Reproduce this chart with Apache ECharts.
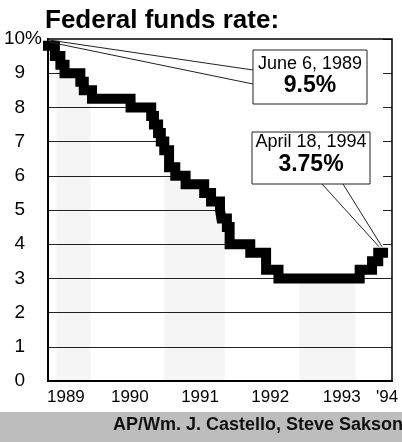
<!DOCTYPE html>
<html>
<head>
<meta charset="utf-8">
<script src="https://cdn.jsdelivr.net/npm/echarts@6/dist/echarts.min.js"></script>
<style>
  html, body { margin: 0; padding: 0; background: #fff; }
  #chart { width: 402px; height: 442px; }
</style>
</head>
<body>
<div id="chart"></div>
<script>
// rate changes, x in decimal years
const rateDates = [1989.33, 1989.43, 1989.51, 1989.57, 1989.80, 1989.85, 1989.97, 1990.53,
  1990.83, 1990.87, 1990.93, 1990.97, 1991.02, 1991.09, 1991.18, 1991.33, 1991.60, 1991.70,
  1991.83, 1991.85, 1991.93, 1991.97, 1992.27, 1992.50, 1992.68, 1993.86, 1994.04, 1994.13, 1994.20];
const rateValues = [9.8, 9.5, 9.25, 9.0, 8.75, 8.5, 8.25, 8.0,
  7.75, 7.5, 7.25, 7.0, 6.75, 6.25, 6.0, 5.75, 5.5, 5.25,
  5.0, 4.75, 4.5, 4.0, 3.75, 3.25, 3.0, 3.25, 3.5, 3.75, 3.75];

const yearLabels = ['1989', '1990', '1991', '1992', '1993', "'94"];
const yearLabelPos = [1989.59, 1990.52, 1991.54, 1992.56, 1993.60, 1994.26];
const shadedYears = [[1989.45, 1989.95], [1991.02, 1991.90], [1992.98, 1993.80]];

const xMin = 1989.33, xMax = 1994.33;
const FONT = '"Liberation Sans", Arial, sans-serif';

const chart = echarts.init(document.getElementById('chart'));
const seriesData = rateDates.map((d, i) => [d, rateValues[i]]);

const option = {
  animation: false,
  grid: { left: 48, right: 10, top: 39, bottom: 61, show: true, borderColor: '#000', borderWidth: 1.5, z: 10 },
  xAxis: {
    type: 'value',
    min: xMin,
    max: xMax,
    axisLine: { show: true, onZero: false, lineStyle: { color: '#000', width: 2 } },
    axisTick: { show: false },
    splitLine: { show: false },
    axisLabel: {
      customValues: yearLabelPos,
      color: '#000',
      fontFamily: FONT,
      fontSize: 17,
      margin: 8,
      formatter: function (value) {
        let best = 0;
        yearLabelPos.forEach((p, i) => {
          if (Math.abs(p - value) < Math.abs(yearLabelPos[best] - value)) best = i;
        });
        return yearLabels[best];
      }
    }
  },
  yAxis: {
    type: 'value',
    min: 0,
    max: 10,
    interval: 1,
    axisLine: { show: true, lineStyle: { color: '#000', width: 2 } },
    axisTick: { show: false },
    splitLine: { show: true, lineStyle: { color: '#222', width: 1 } },
    axisLabel: {
      color: '#000',
      fontFamily: FONT,
      fontSize: 19,
      margin: 6,
      // hidden % keeps the numbers lined up under "10"
      formatter: v => v === 10 ? '10%' : v + '{h|%}',
      rich: { h: { color: 'transparent', fontSize: 19, fontFamily: FONT } }
    }
  },
  series: [
    {
      // white fill above the line hides the grid there
      type: 'line',
      step: 'end',
      data: seriesData,
      symbol: 'none',
      silent: true,
      lineStyle: { width: 0, opacity: 0 },
      areaStyle: { color: '#fff', opacity: 1, origin: 'end' },
      z: 2
    },
    {
      type: 'line',
      step: 'end',
      data: seriesData,
      symbol: 'none',
      clip: false,
      lineStyle: { color: '#000', width: 10, join: 'miter', cap: 'square' },
      z: 3,
      markArea: {
        silent: true,
        itemStyle: { color: 'rgba(0,0,0,0.04)' },
        data: shadedYears.map(s => [{ xAxis: s[0] }, { xAxis: s[1] }])
      }
    }
  ]
};

chart.setOption(option);

const start = chart.convertToPixel({ gridIndex: 0 }, [xMin, 10]);
const last = chart.convertToPixel({ gridIndex: 0 }, seriesData[seriesData.length - 1]);

chart.setOption({
  graphic: [
    {
      type: 'text', x: 45, y: 21, z: 20,
      style: { text: 'Federal funds rate:', font: 'bold 26px ' + FONT, fill: '#000', verticalAlign: 'middle' }
    },
    // credit strip
    { type: 'rect', x: 0, y: 412, z: 20, shape: { width: 402, height: 30 }, style: { fill: '#bdbdbd' } },
    {
      type: 'text', x: 113, y: 425, z: 21,
      style: { text: 'AP/Wm. J. Castello, Steve Sakson', font: 'bold 18px ' + FONT, fill: '#111', verticalAlign: 'middle' }
    },
    // callout 1
    { type: 'line', z: 20, shape: { x1: start[0] + 1, y1: start[1] + 1, x2: 253, y2: 70 }, style: { stroke: '#222', lineWidth: 1 } },
    { type: 'line', z: 20, shape: { x1: start[0] + 1, y1: start[1] + 3, x2: 253, y2: 84 }, style: { stroke: '#222', lineWidth: 1 } },
    { type: 'rect', x: 253, y: 50, z: 21, shape: { width: 114, height: 54 }, style: { fill: '#fff', stroke: '#222', lineWidth: 1 } },
    { type: 'text', x: 310, y: 64, z: 22, style: { text: 'June 6, 1989', font: '18px ' + FONT, fill: '#000', align: 'center', verticalAlign: 'middle' } },
    { type: 'text', x: 310, y: 86, z: 22, style: { text: '9.5%', font: 'bold 23px ' + FONT, fill: '#000', align: 'center', verticalAlign: 'middle' } },
    // callout 2
    { type: 'line', z: 20, shape: { x1: 322, y1: 184, x2: last[0] - 4, y2: last[1] - 6 }, style: { stroke: '#222', lineWidth: 1 } },
    { type: 'line', z: 20, shape: { x1: 343, y1: 184, x2: last[0] - 1, y2: last[1] - 6 }, style: { stroke: '#222', lineWidth: 1 } },
    { type: 'rect', x: 252, y: 132, z: 21, shape: { width: 118, height: 52 }, style: { fill: '#fff', stroke: '#222', lineWidth: 1 } },
    { type: 'text', x: 311, y: 142, z: 22, style: { text: 'April 18, 1994', font: '18px ' + FONT, fill: '#000', align: 'center', verticalAlign: 'middle' } },
    { type: 'text', x: 311, y: 165, z: 22, style: { text: '3.75%', font: 'bold 23px ' + FONT, fill: '#000', align: 'center', verticalAlign: 'middle' } }
  ]
});
</script>
</body>
</html>
